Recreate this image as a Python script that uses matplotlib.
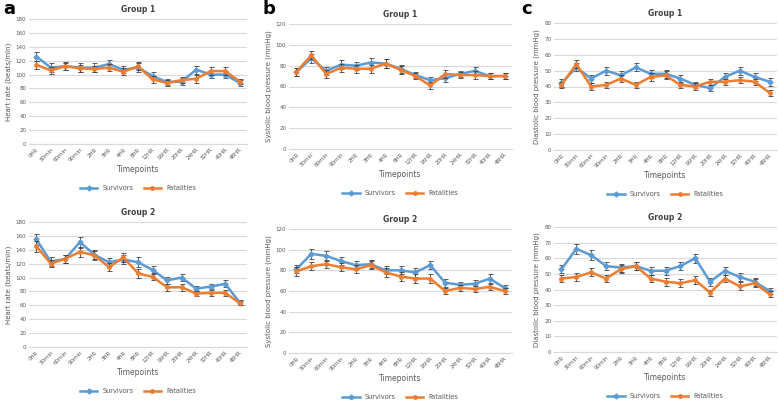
import matplotlib
matplotlib.use("Agg")
import matplotlib.pyplot as plt
from matplotlib.lines import Line2D
import numpy as np

timepoints = ["0HR", "30min", "60min", "90min", "2HR", "3HR", "4HR", "8HR",
              "12HR", "16HR", "20HR", "24HR", "32HR", "40HR", "48HR"]

# Heart rate
hr_g1_surv = [126, 110, 112, 110, 110, 115, 107, 110, 98, 89, 90, 107, 100, 100, 88]
hr_g1_fat = [114, 106, 112, 109, 108, 110, 104, 112, 93, 88, 92, 94, 105, 105, 90]
hr_g1_surv_err = [7, 6, 6, 6, 6, 6, 5, 7, 5, 4, 5, 6, 5, 5, 4]
hr_g1_fat_err = [6, 5, 5, 5, 5, 5, 5, 6, 5, 4, 4, 6, 6, 6, 4]
hr_g2_surv = [155, 123, 127, 151, 133, 122, 126, 122, 111, 96, 100, 84, 87, 91, 64]
hr_g2_fat = [145, 120, 127, 137, 132, 115, 129, 106, 101, 86, 86, 77, 78, 78, 63]
hr_g2_surv_err = [8, 6, 6, 8, 6, 6, 6, 7, 6, 5, 5, 4, 4, 5, 3]
hr_g2_fat_err = [8, 5, 6, 7, 6, 6, 6, 6, 5, 5, 5, 4, 4, 4, 3]

# Systolic blood pressure
sbp_g1_surv = [74, 87, 75, 81, 80, 83, 82, 77, 71, 66, 68, 72, 75, 70, 70]
sbp_g1_fat = [74, 90, 72, 78, 77, 77, 82, 76, 70, 61, 72, 71, 71, 70, 70]
sbp_g1_surv_err = [4, 4, 4, 4, 4, 4, 4, 4, 3, 3, 4, 3, 4, 3, 3]
sbp_g1_fat_err = [4, 4, 4, 4, 4, 4, 4, 4, 3, 3, 4, 3, 4, 3, 3]
sbp_g2_surv = [81, 96, 94, 89, 85, 86, 80, 80, 78, 85, 68, 66, 67, 72, 63]
sbp_g2_fat = [79, 84, 86, 83, 81, 85, 78, 74, 72, 72, 60, 63, 62, 64, 60]
sbp_g2_surv_err = [4, 5, 5, 4, 4, 4, 4, 4, 4, 4, 4, 3, 4, 4, 3]
sbp_g2_fat_err = [4, 4, 4, 4, 4, 4, 4, 4, 4, 4, 3, 3, 3, 3, 3]

# Diastolic blood pressure
dbp_g1_surv = [42, 52, 45, 50, 47, 52, 48, 48, 45, 41, 39, 46, 50, 46, 43]
dbp_g1_fat = [41, 54, 40, 41, 45, 41, 46, 47, 41, 40, 43, 43, 44, 43, 36]
dbp_g1_surv_err = [2.5, 2.5, 2.5, 2.5, 2.5, 2.5, 2.5, 2.5, 2.5, 2, 2, 2.5, 2.5, 2.5, 2.5]
dbp_g1_fat_err = [2, 2.5, 2, 2, 2, 2, 2.5, 2.5, 2, 2, 2, 2, 2, 2, 2]
dbp_g2_surv = [53, 66, 62, 55, 54, 55, 52, 52, 55, 60, 45, 52, 48, 45, 39]
dbp_g2_fat = [47, 48, 51, 47, 53, 55, 47, 45, 44, 46, 38, 47, 42, 44, 37]
dbp_g2_surv_err = [2.5, 3, 3, 2.5, 2.5, 2.5, 2.5, 2.5, 2.5, 3, 2.5, 2.5, 2.5, 2.5, 2]
dbp_g2_fat_err = [2.5, 2.5, 2.5, 2.5, 2.5, 2.5, 2.5, 2.5, 2.5, 2.5, 2, 2.5, 2.5, 2.5, 2]

BLUE = "#5B9BD5"
ORANGE = "#ED7D31"
GRID = "#D9D9D9"
TXT = "#595959"

W, H = 778, 400
fig = plt.figure(figsize=(W / 100, H / 100), dpi=100)

def px_axes(left, top, right, bottom):
    return fig.add_axes([left / W, 1 - bottom / H, (right - left) / W, (bottom - top) / H])

panels = [
    (29, 19, 247, 144, 180, 20, "Heart rate (beats/min)", "Group 1", hr_g1_surv, hr_g1_fat, hr_g1_surv_err, hr_g1_fat_err),
    (29, 222, 247, 347, 180, 20, "Heart rate (beats/min)", "Group 2", hr_g2_surv, hr_g2_fat, hr_g2_surv_err, hr_g2_fat_err),
    (289, 24, 512, 149, 120, 20, "Systolic blood pressure (mmHg)", "Group 1", sbp_g1_surv, sbp_g1_fat, sbp_g1_surv_err, sbp_g1_fat_err),
    (289, 229, 512, 353, 120, 20, "Systolic blood pressure (mmHg)", "Group 2", sbp_g2_surv, sbp_g2_fat, sbp_g2_surv_err, sbp_g2_fat_err),
    (554, 23, 777, 150, 80, 10, "Diastolic blood pressure (mmHg)", "Group 1", dbp_g1_surv, dbp_g1_fat, dbp_g1_surv_err, dbp_g1_fat_err),
    (554, 227, 777, 352, 80, 10, "Diastolic blood pressure (mmHg)", "Group 2", dbp_g2_surv, dbp_g2_fat, dbp_g2_surv_err, dbp_g2_fat_err),
]

x = np.arange(len(timepoints))
for (l, t, r, b, ymax, ystep, ylab, title, surv, fat, serr, ferr) in panels:
    ax = px_axes(l, t, r, b)
    ax.set_xlim(-0.5, len(timepoints) - 0.5)
    ax.set_ylim(0, ymax)
    ax.set_yticks(np.arange(0, ymax + 1, ystep))
    ax.yaxis.grid(True, color=GRID, linewidth=0.8)
    ax.set_axisbelow(True)
    for s in ax.spines.values():
        s.set_visible(False)
    ax.spines["bottom"].set_visible(True)
    ax.spines["bottom"].set_color(GRID)
    ax.tick_params(axis="both", length=0, labelsize=4.0, colors=TXT, pad=2)
    ax.set_xticks(x)
    ax.set_xticklabels(timepoints, rotation=45, ha="right", rotation_mode="anchor")
    ax.set_ylabel(ylab, fontsize=5, color=TXT, labelpad=3)
    ax.set_xlabel("Timepoints", fontsize=5.5, color=TXT, labelpad=2)
    ax.set_title(title, fontsize=5.5, fontweight="bold", color="#404040", pad=5)
    ax.errorbar(x, surv, yerr=serr, color=BLUE, ecolor="#404040", elinewidth=0.6,
                capsize=1.8, capthick=0.6, linewidth=1.8, marker="D", markersize=2.5,
                zorder=3)
    ax.errorbar(x, fat, yerr=ferr, color=ORANGE, ecolor="#404040", elinewidth=0.6,
                capsize=1.8, capthick=0.6, linewidth=1.8, marker="o", markersize=2.5,
                zorder=4)
    handles = [Line2D([], [], color=BLUE, linewidth=1.8, marker="D", markersize=2.5),
               Line2D([], [], color=ORANGE, linewidth=1.8, marker="o", markersize=2.5)]
    leg = fig.legend(handles, ["Survivors", "Fatalities"], loc="center",
                     bbox_to_anchor=(((l + r) / 2) / W, 1 - (b + 44) / H),
                     ncol=2, frameon=False, fontsize=4.8, handlelength=2.6,
                     columnspacing=1.5, borderpad=0.1)
    for txt in leg.get_texts():
        txt.set_color(TXT)

for letter, xp in [("a", 3), ("b", 263), ("c", 521)]:
    fig.text(xp / W, 1 - 9 / H, letter, fontsize=13, fontweight="bold", va="center", ha="left")

fig.savefig("out.png", dpi=100)
